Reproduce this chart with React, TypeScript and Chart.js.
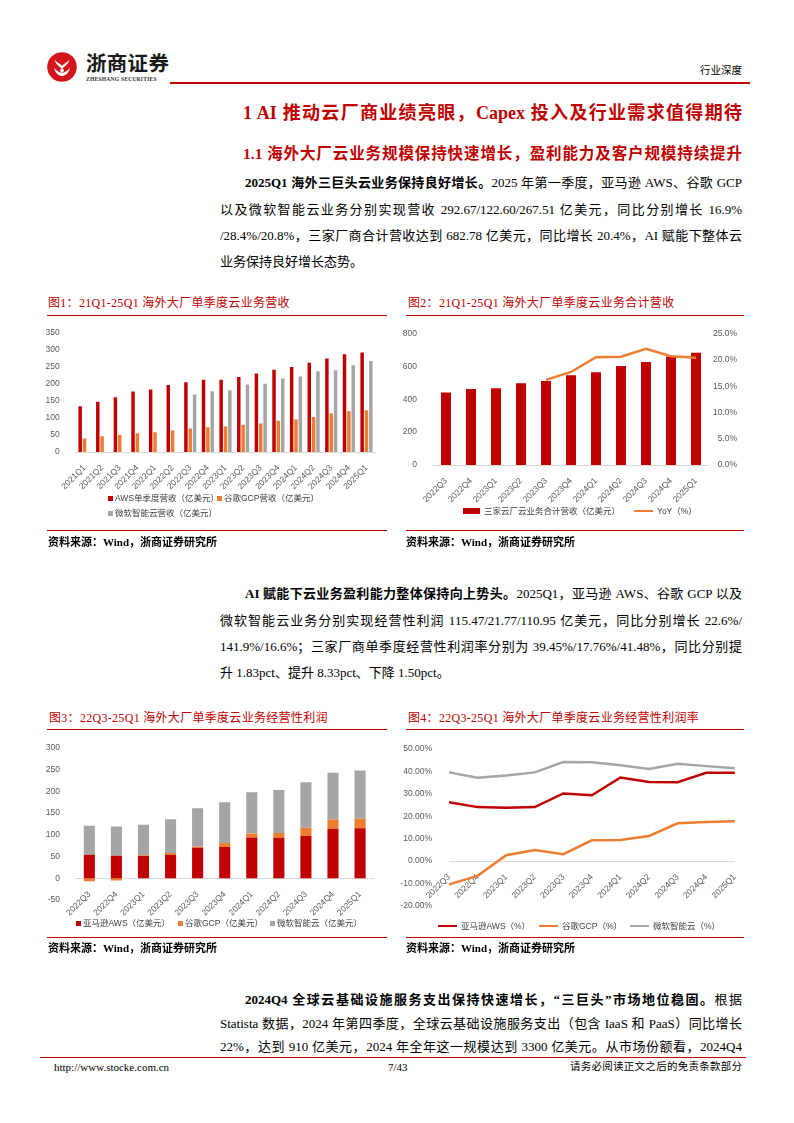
import React, { useEffect, useRef } from 'react';
import { Chart, registerables } from 'chart.js';
Chart.register(...registerables);

// ---------- DATA ----------
const quarters1 = ['2021Q1','2021Q2','2021Q3','2021Q4','2022Q1','2022Q2','2022Q3','2022Q4','2023Q1','2023Q2','2023Q3','2023Q4','2024Q1','2024Q2','2024Q3','2024Q4','2025Q1'];
const awsRevenue = [135,148,161,178,184,197,205,213,213,221,231,242,250,263,275,288,293];
const gcpRevenue = [40,46,50,55,58,63,69,73,75,80,84,92,96,103,114,120,123];
const msftRevenue = [null,null,null,null,null,null,169,179,182,199,201,216,222,238,241,255,268];

const quarters2 = ['2022Q3','2022Q4','2023Q1','2023Q2','2023Q3','2023Q4','2024Q1','2024Q2','2024Q3','2024Q4','2025Q1'];
const totalRevenue = [441,462,467,498,512,546,565,602,627,661,683];
const totalYoY = [null,null,null,null,16.2,17.7,20.5,20.6,22.1,20.7,20.4];

const awsProfit = [54,52,51,54,70,72,94,93,97,114,115];
const gcpProfit = [-7,-5,2,4,3,9,9,11,19,21,22];
const msftProfit = [67,67,70,78,88,94,95,99,105,108,111];

const awsMargin = [26.3,24.1,23.8,24.1,30.2,29.4,37.3,35.3,35.2,39.4,39.45];
const gcpMargin = [-10.4,-6.6,2.6,5.0,3.1,9.3,9.4,11.2,16.9,17.5,17.76];
const msftMargin = [39.6,37.2,38.2,39.6,44.2,44.1,42.8,41.1,43.5,42.4,41.48];

const yTicks1 = { min: 0, max: 350, step: 50 };
const yTicks2 = { min: 0, max: 800, step: 200 };
const yTicks2r = { min: 0, max: 25, step: 5 };
const yTicks3 = { min: -50, max: 300, step: 50 };
const yTicks4 = { min: -20, max: 50, step: 10 };

// ---------- STYLE ----------
const RED = '#C00000';
const ORANGE = '#ED7D31';
const GRAY = '#A5A5A5';
const SANS = '"Liberation Sans", "Noto Sans CJK SC", sans-serif';
const SERIF = '"Liberation Serif", "Noto Sans CJK SC", serif';
const TICK = '#595959';
const AXIS = '#D9D9D9';

Chart.defaults.font.family = SANS;

const tickFont = { size: 8.5, family: SANS };

function ChartCanvas({ left, top, width, height, make }) {
  const ref = useRef(null);
  useEffect(() => {
    const chart = new Chart(ref.current, make());
    return () => chart.destroy();
  }, []);
  return (
    <div style={{ position: 'absolute', left, top, width, height }}>
      <canvas ref={ref} width={width} height={height} style={{ width, height, display: 'block' }} />
    </div>
  );
}

const baseOpts = (padding) => ({
  responsive: false,
  animation: false,
  devicePixelRatio: 1,
  layout: { autoPadding: false, padding },
  plugins: { legend: { display: false }, tooltip: { enabled: false } },
});

const xCat = (extra = {}) => ({
  grid: { display: false },
  border: { color: AXIS },
  ticks: { autoSkip: false, minRotation: 45, maxRotation: 45, font: tickFont, color: TICK, padding: 3 },
  ...extra,
});

const yVal = (t, width, padding, cb, extra = {}) => ({
  min: t.min,
  max: t.max,
  grid: { display: false },
  border: { display: false },
  ticks: { stepSize: t.step, font: tickFont, color: TICK, padding, callback: cb },
  afterFit: (s) => { s.width = width; },
  ...extra,
});

const make1 = () => ({
  type: 'bar',
  data: {
    labels: quarters1,
    datasets: [
      { label: 'AWS单季度营收（亿美元）', data: awsRevenue, backgroundColor: RED, barPercentage: 0.8, categoryPercentage: 0.74 },
      { label: '谷歌GCP营收（亿美元）', data: gcpRevenue, backgroundColor: ORANGE, barPercentage: 0.8, categoryPercentage: 0.74 },
      { label: '微软智能云营收（亿美元）', data: msftRevenue, backgroundColor: GRAY, barPercentage: 0.8, categoryPercentage: 0.74 },
    ],
  },
  options: {
    ...baseOpts({ top: 13, left: 0, right: 9.7, bottom: 0 }),
    scales: {
      x: xCat({ afterFit: (s) => { s.height = 40; } }),
      y: yVal(yTicks1, 35.7, 8, (v) => v),
    },
  },
});

const make2 = () => ({
  type: 'bar',
  data: {
    labels: quarters2,
    datasets: [
      { type: 'line', label: 'YoY（%）', data: totalYoY, yAxisID: 'y1', borderColor: ORANGE, borderWidth: 2.5, pointRadius: 0, tension: 0, order: 0 },
      { type: 'bar', label: '三家云厂云业务合计营收（亿美元）', data: totalRevenue, yAxisID: 'y', backgroundColor: RED, barPercentage: 0.4, categoryPercentage: 1, order: 1 },
    ],
  },
  options: {
    ...baseOpts({ top: 12, left: 0, right: 8, bottom: 0 }),
    scales: {
      x: xCat({ afterFit: (s) => { s.height = 40; } }),
      y: yVal(yTicks2, 33.5, 8.5, (v) => v, { position: 'left' }),
      y1: yVal(yTicks2r, 28.5, 8, (v) => Number(v).toFixed(1) + '%', { position: 'right', ticks: { stepSize: yTicks2r.step, font: tickFont, color: TICK, padding: 8, crossAlign: 'far', callback: (v) => Number(v).toFixed(1) + '%' } }),
    },
  },
});

const make3 = () => ({
  type: 'bar',
  data: {
    labels: quarters2,
    datasets: [
      { label: '亚马逊AWS（亿美元）', data: awsProfit, backgroundColor: RED, barPercentage: 0.41, categoryPercentage: 1 },
      { label: '谷歌GCP（亿美元）', data: gcpProfit, backgroundColor: ORANGE, barPercentage: 0.41, categoryPercentage: 1 },
      { label: '微软智能云（亿美元）', data: msftProfit, backgroundColor: GRAY, barPercentage: 0.41, categoryPercentage: 1 },
    ],
  },
  options: {
    ...baseOpts({ top: 10.7, left: 0, right: 11.4, bottom: 20 }),
    scales: {
      x: xCat({ stacked: true, position: { y: 0 } }),
      y: yVal(yTicks3, 35.8, 7.8, (v) => v, { stacked: true }),
    },
  },
});

const make4 = () => ({
  type: 'line',
  data: {
    labels: quarters2,
    datasets: [
      { label: '亚马逊AWS（%）', data: awsMargin, borderColor: RED, borderWidth: 2.5, pointRadius: 0, tension: 0 },
      { label: '谷歌GCP（%）', data: gcpMargin, borderColor: ORANGE, borderWidth: 2.5, pointRadius: 0, tension: 0 },
      { label: '微软智能云（%）', data: msftMargin, borderColor: GRAY, borderWidth: 2.5, pointRadius: 0, tension: 0 },
    ],
  },
  options: {
    ...baseOpts({ top: 11, left: 0, right: 10, bottom: 12 }),
    scales: {
      x: xCat({ position: { y: 0 } }),
      y: yVal(yTicks4, 49, 9, (v) => Number(v).toFixed(2) + '%'),
    },
  },
});

// ---------- PAGE PIECES ----------
function TextLine({ top, left, width, children, size = 13, justify = true, color = '#000', bold = false, family = SERIF }) {
  return (
    <div style={{
      position: 'absolute', top: top - 10, left, width, height: 20, lineHeight: '20px',
      fontSize: size, fontFamily: family, color, fontWeight: bold ? 700 : 400,
      textAlign: justify ? 'justify' : 'left', textAlignLast: justify ? 'justify' : 'left',
      overflow: 'hidden', whiteSpace: justify ? 'normal' : 'nowrap',
    }}>{children}</div>
  );
}

function HLine({ left, top, width, color = RED, h = 1.5 }) {
  return <div style={{ position: 'absolute', left, top, width, height: h, background: color }} />;
}

function ChartTitle({ left, top, text }) {
  return <div style={{ position: 'absolute', left, top: top - 8, height: 16, lineHeight: '16px', fontSize: 12, fontFamily: SERIF, color: RED, whiteSpace: 'nowrap', letterSpacing: 0.3 }}>{text}</div>;
}

function Source({ left, top }) {
  return <div style={{ position: 'absolute', left, top: top - 8, height: 16, lineHeight: '16px', fontSize: 11, fontFamily: SERIF, color: '#000', fontWeight: 700, whiteSpace: 'nowrap' }}>资料来源：Wind，浙商证券研究所</div>;
}

function LegendItem({ left, top, color, text, kind = 'square' }) {
  let mark;
  if (kind === 'square') mark = <span style={{ display: 'inline-block', width: 5, height: 5, background: color, marginRight: 2 }} />;
  else if (kind === 'wide') mark = <span style={{ display: 'inline-block', width: 17, height: 6, background: color, marginRight: 4 }} />;
  else mark = <span style={{ display: 'inline-block', width: 19, height: 2.5, background: color, marginRight: 4 }} />;
  return (
    <div style={{ position: 'absolute', left, top: top - 7, height: 14, lineHeight: '14px', fontSize: 8.5, fontFamily: SANS, color: '#404040', whiteSpace: 'nowrap', display: 'flex', alignItems: 'center' }}>
      {mark}<span>{text}</span>
    </div>
  );
}

function Logo() {
  return (
    <>
      <svg width={30} height={30} style={{ position: 'absolute', left: 47, top: 52 }} viewBox="0 0 26 26">
        <circle cx={13} cy={13} r={12.8} fill="#D2141C" />
        <path d="M6.5 6.5 C9 9.5 11 10 13 12 C15 10 17 9.5 19.5 6.5 C18.5 10.5 16 12 13 14.5 C10 12 7.5 10.5 6.5 6.5 Z" fill="#fff" />
        <path d="M6 13.5 C7 18 9.5 20.5 13 21 C16.5 20.5 19 18 20 13.5 C18.5 16 16 17.8 13 18 C10 17.8 7.5 16 6 13.5 Z" fill="#fff" />
        <circle cx={13} cy={16} r={1.6} fill="#fff" />
      </svg>
      <div style={{ position: 'absolute', left: 86, top: 50, fontSize: 20.5, lineHeight: '25px', fontWeight: 700, fontFamily: '"Noto Sans CJK SC", sans-serif', color: '#1a1a1a', letterSpacing: 0.3, whiteSpace: 'nowrap' }}>浙商证券</div>
      <div style={{ position: 'absolute', left: 86, top: 76, fontSize: 5.6, lineHeight: '7px', fontWeight: 700, fontFamily: SERIF, color: '#333', letterSpacing: 0.2, whiteSpace: 'nowrap' }}>ZHESHANG SECURITIES</div>
    </>
  );
}

export default function App() {
  const PL = 220, PR = 742, IND = 245;
  return (
    <div style={{ position: 'absolute', left: 0, top: 0, width: 794, height: 1123, background: '#fff', overflow: 'hidden' }}>
      {/* header */}
      <Logo />
      <HLine left={170} top={81.5} width={580} h={2} />
      <TextLine top={71} left={700} width={50} size={10.5} justify={false}>行业深度</TextLine>

      {/* section titles */}
      <TextLine top={113} left={243} width={499} size={18} bold color={RED}>1 AI 推动云厂商业绩亮眼，Capex 投入及行业需求值得期待</TextLine>
      <TextLine top={154} left={243} width={499} size={15.5} bold color={RED}>1.1 海外大厂云业务规模保持快速增长，盈利能力及客户规模持续提升</TextLine>

      {/* paragraph 1 */}
      <TextLine top={183} left={IND} width={PR - IND}><b>2025Q1 海外三巨头云业务保持良好增长。</b>2025 年第一季度，亚马逊 AWS、谷歌 GCP</TextLine>
      <TextLine top={209.5} left={PL} width={PR - PL}>以及微软智能云业务分别实现营收 292.67/122.60/267.51 亿美元，同比分别增长 16.9%</TextLine>
      <TextLine top={236} left={PL} width={PR - PL}>/28.4%/20.8%，三家厂商合计营收达到 682.78 亿美元，同比增长 20.4%，AI 赋能下整体云</TextLine>
      <TextLine top={262} left={PL} width={PR - PL} justify={false}>业务保持良好增长态势。</TextLine>

      {/* chart 1 */}
      <ChartTitle left={48} top={303} text="图1：21Q1-25Q1 海外大厂单季度云业务营收" />
      <HLine left={47} top={314.5} width={340} />
      <ChartCanvas left={40} top={320} width={345} height={172} make={make1} />
      <LegendItem left={108} top={498} color={RED} text="AWS单季度营收（亿美元）" />
      <LegendItem left={217} top={498} color={ORANGE} text="谷歌GCP营收（亿美元）" />
      <LegendItem left={108} top={513} color={GRAY} text="微软智能云营收（亿美元）" />
      <HLine left={47} top={529.5} width={340} />
      <Source left={48} top={542} />

      {/* chart 2 */}
      <ChartTitle left={408} top={303} text="图2：21Q1-25Q1 海外大厂单季度云业务合计营收" />
      <HLine left={406} top={314.5} width={338} />
      <ChartCanvas left={400} top={320} width={345} height={185} make={make2} />
      <LegendItem left={463} top={511} color={RED} kind="wide" text="三家云厂云业务合计营收（亿美元）" />
      <LegendItem left={634} top={511} color={ORANGE} kind="line" text="YoY（%）" />
      <HLine left={406} top={529.5} width={338} />
      <Source left={406} top={542} />

      {/* paragraph 2 */}
      <TextLine top={594} left={IND} width={PR - IND}><b>AI 赋能下云业务盈利能力整体保持向上势头。</b>2025Q1，亚马逊 AWS、谷歌 GCP 以及</TextLine>
      <TextLine top={620.5} left={PL} width={PR - PL}>微软智能云业务分别实现经营性利润 115.47/21.77/110.95 亿美元，同比分别增长 22.6%/</TextLine>
      <TextLine top={647} left={PL} width={PR - PL}>141.9%/16.6%；三家厂商单季度经营性利润率分别为 39.45%/17.76%/41.48%，同比分别提</TextLine>
      <TextLine top={673} left={PL} width={PR - PL} justify={false}>升 1.83pct、提升 8.33pct、下降 1.50pct。</TextLine>

      {/* chart 3 */}
      <ChartTitle left={49} top={718} text="图3：22Q3-25Q1 海外大厂单季度云业务经营性利润" />
      <HLine left={47} top={728.5} width={340} />
      <ChartCanvas left={40} top={735} width={345} height={185} make={make3} />
      <LegendItem left={76} top={923} color={RED} text="亚马逊AWS（亿美元）" />
      <LegendItem left={178} top={923} color={ORANGE} text="谷歌GCP（亿美元）" />
      <LegendItem left={270} top={923} color={GRAY} text="微软智能云（亿美元）" />
      <HLine left={47} top={936.5} width={340} />
      <Source left={48} top={948} />

      {/* chart 4 */}
      <ChartTitle left={408} top={718} text="图4：22Q3-25Q1 海外大厂单季度云业务经营性利润率" />
      <HLine left={406} top={728.5} width={338} />
      <ChartCanvas left={400} top={735} width={345} height={185} make={make4} />
      <LegendItem left={438} top={926} color={RED} kind="line" text="亚马逊AWS（%）" />
      <LegendItem left={539} top={926} color={ORANGE} kind="line" text="谷歌GCP（%）" />
      <LegendItem left={630} top={926} color={GRAY} kind="line" text="微软智能云（%）" />
      <HLine left={406} top={936.5} width={338} />
      <Source left={406} top={948} />

      {/* paragraph 3 */}
      <TextLine top={1000} left={IND} width={PR - IND}><b>2024Q4 全球云基础设施服务支出保持快速增长，“三巨头”市场地位稳固。</b>根据</TextLine>
      <TextLine top={1023.5} left={PL} width={PR - PL}>Statista 数据，2024 年第四季度，全球云基础设施服务支出（包含 IaaS 和 PaaS）同比增长</TextLine>
      <TextLine top={1047} left={PL} width={PR - PL}>22%，达到 910 亿美元，2024 年全年这一规模达到 3300 亿美元。从市场份额看，2024Q4</TextLine>

      {/* footer */}
      <HLine left={40} top={1056.5} width={706} h={1.2} />
      <TextLine top={1067} left={54} width={200} size={11} justify={false}>http://www.stocke.com.cn</TextLine>
      <TextLine top={1067} left={388} width={40} size={11} justify={false}>7/43</TextLine>
      <TextLine top={1067} left={570} width={172} size={10.5} justify>请务必阅读正文之后的免责条款部分</TextLine>
    </div>
  );
}
